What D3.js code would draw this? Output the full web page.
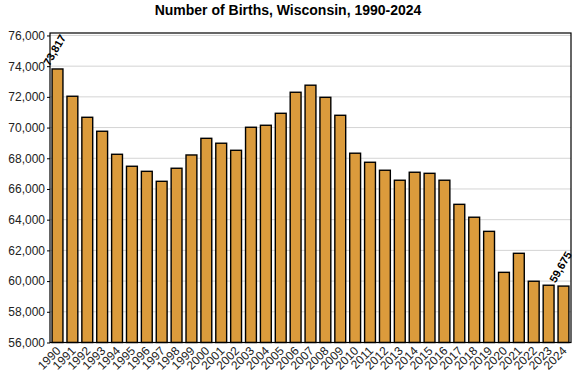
<!DOCTYPE html>
<html>
<head>
<meta charset="utf-8">
<script src="https://cdn.jsdelivr.net/npm/d3@7"></script>
<style>
  body { margin: 0; background: white; }
  svg { display: block; font-family: "Liberation Sans", Arial, sans-serif; }
</style>
</head>
<body>
<div id="chart"></div>
<script>
var
  years = d3.range(1990, 2025).map(String),

  births = [
    73817, 72040, 70670, 69760, 68260, 67480, 67150, 66500, 67350, 68215,
    69300, 68980, 68520, 70020, 70150, 70930, 72300, 72760, 71970, 70800,
    68330, 67740, 67220, 66570, 67090, 67020, 66570, 65000, 64160, 63240,
    60570, 61810, 59990, 59730, 59675
  ],

  yTicks = [56000, 58000, 60000, 62000, 64000, 66000, 68000, 70000, 72000, 74000, 76000],

  // years that get a value label over their bar
  labelledYears = ["1990", "2024"],

  TITLE = "Number of Births, Wisconsin, 1990-2024";

var
  WIDTH = 576,
  HEIGHT = 384,
  PLOT_LEFT = 50,
  PLOT_RIGHT = 571,
  PLOT_TOP = 33,
  PLOT_BOTTOM = 342.5,

  BAR_COLOR = "#DB9B3C",
  GRID_COLOR = "#d4d4d4";

var svg = d3.select("#chart").append("svg")
  .attr("width", WIDTH)
  .attr("height", HEIGHT);

svg.append("rect")
  .attr("width", WIDTH)
  .attr("height", HEIGHT)
  .attr("fill", "white");

var x = d3.scaleBand()
  .domain(years)
  .range([PLOT_LEFT, PLOT_RIGHT])
  .paddingInner(0.27)
  .paddingOuter(0.14);

var y = d3.scaleLinear()
  .domain([56000, 76160])
  .range([PLOT_BOTTOM, PLOT_TOP]);

var fmt = d3.format(",");

// gridlines
svg.append("g")
  .selectAll("line")
  .data(yTicks)
  .join("line")
  .attr("x1", PLOT_LEFT)
  .attr("x2", PLOT_RIGHT)
  .attr("y1", function(d){ return y(d); })
  .attr("y2", function(d){ return y(d); })
  .attr("stroke", GRID_COLOR)
  .attr("stroke-width", 1);

// bars
svg.append("g")
  .selectAll("rect")
  .data(births)
  .join("rect")
  .attr("x", function(d, i){ return x(years[i]); })
  .attr("y", function(d){ return y(d); })
  .attr("width", x.bandwidth())
  .attr("height", function(d){ return PLOT_BOTTOM - y(d); })
  .attr("fill", BAR_COLOR)
  .attr("stroke", "black")
  .attr("stroke-width", 1.4);

// frame
svg.append("rect")
  .attr("x", PLOT_LEFT)
  .attr("y", PLOT_TOP)
  .attr("width", PLOT_RIGHT - PLOT_LEFT)
  .attr("height", PLOT_BOTTOM - PLOT_TOP)
  .attr("fill", "none")
  .attr("stroke", "black")
  .attr("stroke-width", 1.2);

// y axis
var yAxis = svg.append("g")
  .attr("transform", "translate(" + PLOT_LEFT + ",0)")
  .call(d3.axisLeft(y).tickValues(yTicks).tickFormat(fmt).tickSize(3).tickPadding(2));
yAxis.select(".domain").remove();
yAxis.selectAll("text")
  .attr("font-size", 12)
  .attr("font-family", "Liberation Sans, Arial, sans-serif")
  .attr("fill", "#222");

// x axis labels
var xAxis = svg.append("g")
  .attr("transform", "translate(0," + PLOT_BOTTOM + ")")
  .call(d3.axisBottom(x).tickSize(0).tickPadding(0));
xAxis.select(".domain").remove();
xAxis.selectAll("text")
  .attr("font-size", 12)
  .attr("font-family", "Liberation Sans, Arial, sans-serif")
  .attr("fill", "#222")
  .attr("text-anchor", "end")
  .attr("dy", null)
  .attr("y", null)
  .attr("transform", "translate(4,9) rotate(-45)");

// value labels on first and last bars
svg.append("g")
  .selectAll("text")
  .data(labelledYears)
  .join("text")
  .attr("transform", function(yr){
    var i = years.indexOf(yr),
      cx = x(yr) + x.bandwidth() / 2,
      top = y(births[i]);
    return "translate(" + (cx - 3) + "," + (top - 19) + ") rotate(-60)";
  })
  .attr("text-anchor", "middle")
  .attr("dy", "0.35em")
  .attr("font-size", 11)
  .attr("font-weight", "bold")
  .text(function(yr){ return fmt(births[years.indexOf(yr)]); });

// title
svg.append("text")
  .attr("x", 288)
  .attr("y", 15)
  .attr("text-anchor", "middle")
  .attr("font-size", 14)
  .attr("font-weight", "bold")
  .text(TITLE);
</script>
</body>
</html>
